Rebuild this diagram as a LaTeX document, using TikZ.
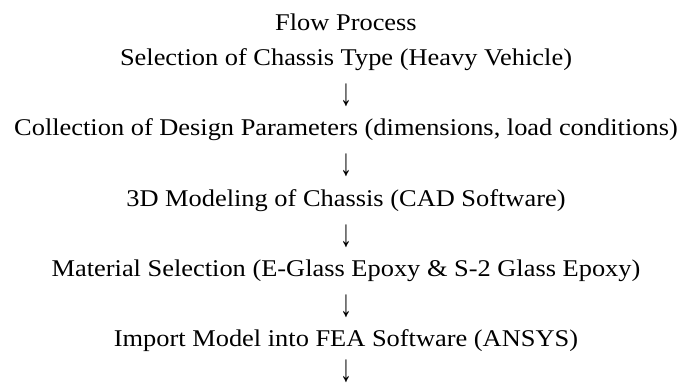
\documentclass[tikz,border=0pt]{standalone}
\usepackage{fontspec}
\setmainfont{Liberation Serif}[FakeStretch=1.1]

\begin{document}
\begin{tikzpicture}[x=0.75pt,y=-0.75pt]
\fontsize{18}{22}\selectfont
\useasboundingbox (0,0) rectangle (683,386);

\tikzset{step line/.style={anchor=base,inner sep=0pt},
  down arrow/.style={anchor=center,inner sep=0pt}}
\newcommand{\downglyph}{\scalebox{0.9}[1.6]{↓}}

% baselines are 35.2 apart, text centred at x = 346
\node[step line] (title) at (346,30) {Flow Process};
\node[step line] (sel) at (346,65.2) {Selection of Chassis Type (Heavy Vehicle)};
\node[down arrow] (arrA) at (346,95) {\downglyph};
\node[step line] (coll) at (346,135.6) {Collection of Design Parameters (dimensions, load conditions)};
\node[down arrow] (arrB) at (346,165.4) {\downglyph};
\node[step line] (model) at (346,206) {3D Modeling of Chassis (CAD Software)};
\node[down arrow] (arrC) at (346,235.8) {\downglyph};
\node[step line] (mat) at (346,276.4) {Material Selection (E-Glass Epoxy \& S-2 Glass Epoxy)};
\node[down arrow] (arrD) at (346,306.2) {\downglyph};
\node[step line] (imp) at (346,346.8) {Import Model into FEA Software (ANSYS)};
\node[down arrow] (arrE) at (346,371) {\downglyph};

\end{tikzpicture}
\end{document}
